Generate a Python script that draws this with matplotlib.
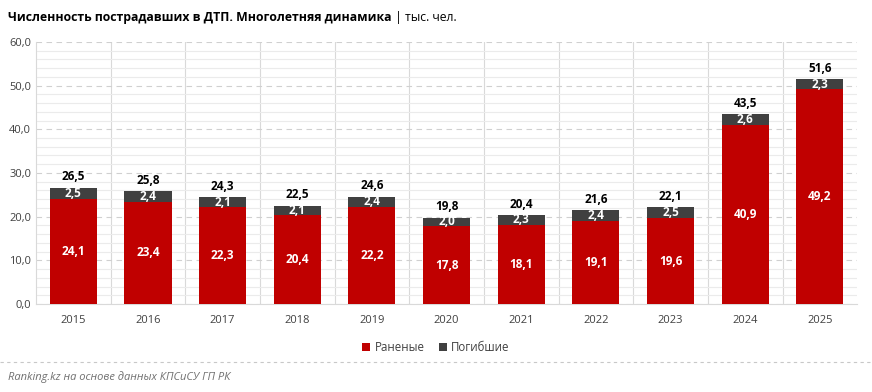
import numpy as np
import matplotlib
matplotlib.use('Agg')
import matplotlib.pyplot as plt
from matplotlib.ticker import MultipleLocator

plt.rcParams['font.family'] = ['Open Sans', 'DejaVu Sans']

years = ['2015', '2016', '2017', '2018', '2019', '2020', '2021', '2022', '2023', '2024', '2025']
injured = [24.1, 23.4, 22.3, 20.4, 22.2, 17.8, 18.1, 19.1, 19.6, 40.9, 49.2]
killed = [2.5, 2.4, 2.1, 2.1, 2.4, 2.0, 2.3, 2.4, 2.5, 2.6, 2.3]
totals = [26.5, 25.8, 24.3, 22.5, 24.6, 19.8, 20.4, 21.6, 22.1, 43.5, 51.6]

red = '#c00000'
dark = '#404040'

fig = plt.figure(figsize=(8.72, 3.92), dpi=100)
ax = fig.add_axes([0.0413, 0.2245, 0.9417, 0.6685])

x = np.arange(len(years))
w = 0.63
ax.bar(x, injured, w, color=red, label='Раненые', zorder=3)
ax.bar(x, killed, w, bottom=injured, color=dark, label='Погибшие', zorder=3)

fmt = lambda v: f'{v:.1f}'.replace('.', ',')
for i in range(len(years)):
    ax.text(x[i], injured[i] / 2, fmt(injured[i]), ha='center', va='center',
            color='white', fontsize=8.5, fontweight='bold', zorder=4)
    ax.text(x[i], injured[i] + killed[i] / 2, fmt(killed[i]), ha='center', va='center',
            color='white', fontsize=8.5, fontweight='bold', zorder=4)
    ax.text(x[i], injured[i] + killed[i] + 1.0, fmt(totals[i]), ha='center', va='bottom',
            color='black', fontsize=8.5, fontweight='bold', zorder=4)

ax.set_xlim(-0.5, len(years) - 0.5)
ax.set_ylim(0, 60)
ax.yaxis.set_minor_locator(MultipleLocator(2))
ax.set_yticks(np.arange(0, 61, 10))
ax.set_yticklabels([fmt(v) for v in np.arange(0, 61, 10)])
ax.set_xticks(x)
ax.set_xticklabels(years)
ax.tick_params(axis='both', length=0, labelsize=8, colors='#404040')
ax.tick_params(axis='y', which='minor', length=0)
ax.tick_params(axis='x', pad=8)

ax.grid(axis='y', which='minor', color='#ebebeb', linewidth=0.8, zorder=0)
ax.grid(axis='y', which='major', color='#d0d0d0', linewidth=0.8, linestyle=(0, (5, 4)), zorder=1)
for xv in np.arange(0.5, len(years) - 1, 1):
    ax.axvline(xv, color='#d9d9d9', linewidth=0.8, zorder=1)
for s in ['top', 'right']:
    ax.spines[s].set_visible(False)
ax.spines['left'].set_color('#d9d9d9')
ax.spines['bottom'].set_color('#d9d9d9')

fig.legend(loc='center', bbox_to_anchor=(0.5, 0.113), ncol=2, frameon=False,
           fontsize=8.3, handlelength=0.7, handleheight=0.7, columnspacing=1.2,
           handletextpad=0.4, labelcolor='#404040')

t1 = fig.text(0.009, 0.955, 'Численность пострадавших в ДТП. Многолетняя динамика',
              fontsize=8.8, fontweight='bold', va='center')
fig.canvas.draw()
bb = t1.get_window_extent().transformed(fig.transFigure.inverted())
fig.text(bb.x1 + 0.004, 0.955, '| тыс. чел.', fontsize=8.8, va='center')

fig.add_artist(plt.Line2D([0.0, 1.0], [0.077, 0.077], color='#c8c8c8',
                          linewidth=0.8, linestyle=(0, (3, 3))))
fig.text(0.009, 0.037, 'Ranking.kz на основе данных КПСиСУ ГП РК', fontsize=8,
         style='italic', color='#707070', va='center')

fig.savefig('out.png', dpi=100)
